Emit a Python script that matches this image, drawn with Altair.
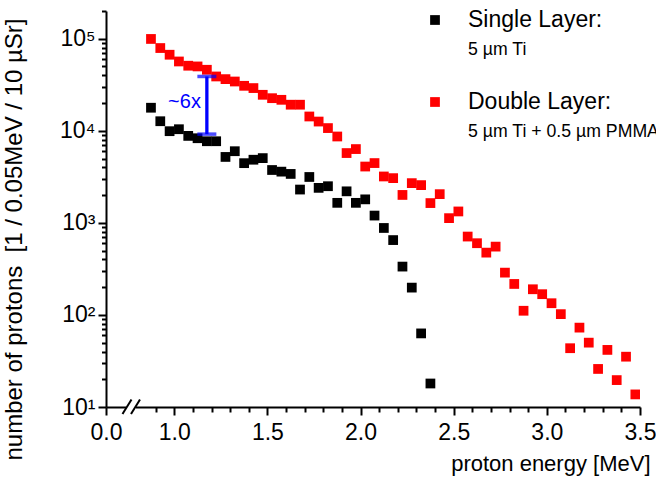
import altair as alt
import pandas as pd

FONT = "Liberation Sans, Arial, Helvetica, sans-serif"
BLUE = "#0000ff"

# ---- data ----
single_energy = [0.875, 0.925, 0.975, 1.025, 1.075, 1.125, 1.175, 1.225, 1.275, 1.325,
                 1.375, 1.425, 1.475, 1.525, 1.575, 1.625, 1.675, 1.725, 1.775, 1.825,
                 1.875, 1.925, 1.975, 2.025, 2.075, 2.125, 2.175, 2.225, 2.275, 2.325, 2.375]
single_counts = [17800, 12700, 9900, 10400, 8800, 8300, 7700, 7700, 5200, 6000,
                 4450, 4850, 5050, 3750, 3600, 3400, 2300, 3150, 2400, 2500,
                 1650, 2200, 1650, 1800, 1200, 880, 650, 335, 198, 63, 18]

double_energy = [0.875, 0.925, 0.975, 1.025, 1.075, 1.125, 1.175, 1.225, 1.275, 1.325,
                 1.375, 1.425, 1.475, 1.525, 1.575, 1.625, 1.675, 1.725, 1.775, 1.825,
                 1.875, 1.925, 1.975, 2.025, 2.075, 2.125, 2.175, 2.225, 2.275, 2.325,
                 2.375, 2.425, 2.475, 2.525, 2.575, 2.625, 2.675, 2.725, 2.775, 2.825,
                 2.875, 2.925, 2.975, 3.025, 3.075, 3.125, 3.175, 3.225, 3.275, 3.325,
                 3.375, 3.425, 3.475]
double_counts = [99400, 79200, 67000, 56600, 50900, 50000, 46000, 38900, 36400, 34300,
                 30800, 29100, 24600, 22600, 21700, 19200, 19200, 14300, 12600, 10700,
                 8670, 5730, 6330, 4090, 4460, 3190, 3060, 2010, 2700, 2570,
                 1640, 2050, 1125, 1330, 710, 601, 475, 552, 288, 217,
                 111, 190, 168, 134, 102, 43.5, 72.8, 50, 25.9, 41.7,
                 19.6, 35.2, 13.7]

series_names = ["Single Layer", "Double Layer"]
series_colors = ["#000000", "#ff0000"]
legend_titles = ["Single Layer:", "Double Layer:"]
legend_subtitles = ["5 µm Ti", "5 µm Ti + 0.5 µm PMMA"]

x_major_ticks = [0.0, 1.0, 1.5, 2.0, 2.5, 3.0, 3.5]
x_minor_ticks = [0.9, 1.1, 1.2, 1.3, 1.4, 1.6, 1.7, 1.8, 1.9, 2.1, 2.2, 2.3, 2.4,
                 2.6, 2.7, 2.8, 2.9, 3.1, 3.2, 3.3, 3.4]
y_major_ticks = [10, 100, 1000, 10000, 100000]
y_minor_ticks = [m * 10 ** e for e in range(1, 5) for m in range(2, 10)] + [200000]

ratio_energy = [1.175]
ratio_low = [9200]
ratio_high = [38900]
ratio_label = ["~6x"]
ratio_label_energy = [1.055]
ratio_label_counts = [17650]

# ---- tables ----
df = pd.concat([
    pd.DataFrame({"energy": single_energy, "counts": single_counts, "series": series_names[0]}),
    pd.DataFrame({"energy": double_energy, "counts": double_counts, "series": series_names[1]}),
], ignore_index=True)
bar_df = pd.DataFrame({"energy": ratio_energy, "low": ratio_low, "high": ratio_high})
cap_df = pd.DataFrame({"energy": ratio_energy * 2, "counts": ratio_low + ratio_high})
lab_df = pd.DataFrame({"energy": ratio_label_energy, "counts": ratio_label_counts, "text": ratio_label})

W, H = 534, 396

x_scale = alt.Scale(domain=[0, 0.8, 3.5], range=[0, 31, W], nice=False, zero=False)
y_scale = alt.Scale(type="log", domain=[10, 200000], nice=False)

sup_expr = ("datum.value == 10 ? '10¹' : datum.value == 100 ? '10²' : "
            "datum.value == 1000 ? '10³' : datum.value == 10000 ? '10⁴' : '10⁵'")

x_axis_major = alt.Axis(
    orient="bottom", values=x_major_ticks, format=".1f", grid=False,
    labelFont=FONT, labelFontSize=23, labelColor="black", labelFlush=False,
    labelOverlap=False, labelPadding=6,
    tickSize=8, tickWidth=2, tickColor="black",
    domainColor="black", domainWidth=2,
    title="proton energy [MeV]", titleFont=FONT, titleFontSize=22,
    titleFontWeight="normal", titleColor="black",
    titleAlign="right", titleAnchor="end", titleX=544, titleY=63,
    titleBaseline="alphabetic",
)
x_axis_minor = alt.Axis(
    orient="bottom", values=x_minor_ticks, labels=False, domain=False, grid=False,
    tickSize=5, tickWidth=2, tickColor="black", title=None,
)
y_axis_major = alt.Axis(
    orient="left", values=y_major_ticks, labelExpr=sup_expr, grid=False,
    labelFont=FONT, labelFontSize=23, labelColor="black", labelPadding=3,
    labelFlush=False, labelOverlap=False,
    tickSize=8, tickWidth=2, tickColor="black",
    domainColor="black", domainWidth=2,
    title="number of protons \u00a0[1 / 0.05MeV / 10 µSr]", titleFont=FONT,
    titleFontSize=24, titleFontWeight="normal", titleColor="black",
    titleAngle=270, titleAlign="center", titleBaseline="alphabetic",
    titleX=-85, titleY=228,
)
y_axis_minor = alt.Axis(
    orient="left", values=y_minor_ticks, labels=False, domain=False, grid=False,
    tickSize=4.5, tickWidth=2, tickColor="black", title=None,
)

minor = alt.Chart(df).mark_square(opacity=0).encode(
    x=alt.X("energy:Q", scale=x_scale, axis=x_axis_minor),
    y=alt.Y("counts:Q", scale=y_scale, axis=y_axis_minor),
)

points = alt.Chart(df).mark_square(size=95, opacity=1, clip=True).encode(
    x=alt.X("energy:Q", scale=x_scale, axis=x_axis_major),
    y=alt.Y("counts:Q", scale=y_scale, axis=y_axis_major),
    color=alt.Color("series:N", scale=alt.Scale(domain=series_names, range=series_colors), legend=None),
)

rule = alt.Chart(bar_df).mark_rule(color=BLUE, strokeWidth=3.3).encode(
    x=alt.X("energy:Q", scale=x_scale, axis=None),
    y=alt.Y("low:Q", scale=y_scale, axis=None),
    y2="high:Q",
)
caps = alt.Chart(cap_df).mark_tick(color=BLUE, orient="horizontal", size=19, thickness=3.5).encode(
    x=alt.X("energy:Q", scale=x_scale, axis=None),
    y=alt.Y("counts:Q", scale=y_scale, axis=None),
)
label = alt.Chart(lab_df).mark_text(color=BLUE, font=FONT, fontSize=20, align="center",
                                    baseline="alphabetic").encode(
    x=alt.X("energy:Q", scale=x_scale, axis=None),
    y=alt.Y("counts:Q", scale=y_scale, axis=None),
    text="text:N",
)

# legend (drawn manually)
LEG_SQ_X, LEG_TX_X = 329, 362
legend_layers = []
for i in range(2):
    dy = i * 82
    legend_layers.append(
        alt.Chart().mark_square(size=95, color=series_colors[i], opacity=1).encode(
            x=alt.value(LEG_SQ_X), y=alt.value(9 + dy)))
    legend_layers.append(
        alt.Chart().mark_text(text=legend_titles[i], font=FONT, fontSize=23, align="left",
                              baseline="alphabetic", color="black").encode(
            x=alt.value(LEG_TX_X), y=alt.value(16 + dy)))
    legend_layers.append(
        alt.Chart().mark_text(text=legend_subtitles[i], font=FONT, fontSize=17.7, align="left",
                              baseline="alphabetic", color="black").encode(
            x=alt.value(LEG_TX_X), y=alt.value(44 + dy)))

# axis break marks
gap = alt.Chart().mark_rect(color="white", opacity=1).encode(
    x=alt.value(20), x2=alt.value(30), y=alt.value(392), y2=alt.value(400))
slash1 = alt.Chart().mark_rule(color="black", strokeWidth=2).encode(
    x=alt.value(16.5), y=alt.value(403), x2=alt.value(25.5), y2=alt.value(388.5))
slash2 = alt.Chart().mark_rule(color="black", strokeWidth=2).encode(
    x=alt.value(25), y=alt.value(403), x2=alt.value(34), y2=alt.value(388.5))

chart = alt.layer(
    minor, points, rule, caps, label, *legend_layers, gap, slash1, slash2
).resolve_scale(x="shared", y="shared").resolve_axis(
    x="independent", y="independent"
).properties(
    width=W, height=H,
    autosize=alt.AutoSizeParams(type="none"),
    padding={"left": 106, "top": 11, "right": 16, "bottom": 73},
    background="white",
).configure_view(stroke=None)

chart.save("out.html", embed_options={"renderer": "svg", "actions": False})
